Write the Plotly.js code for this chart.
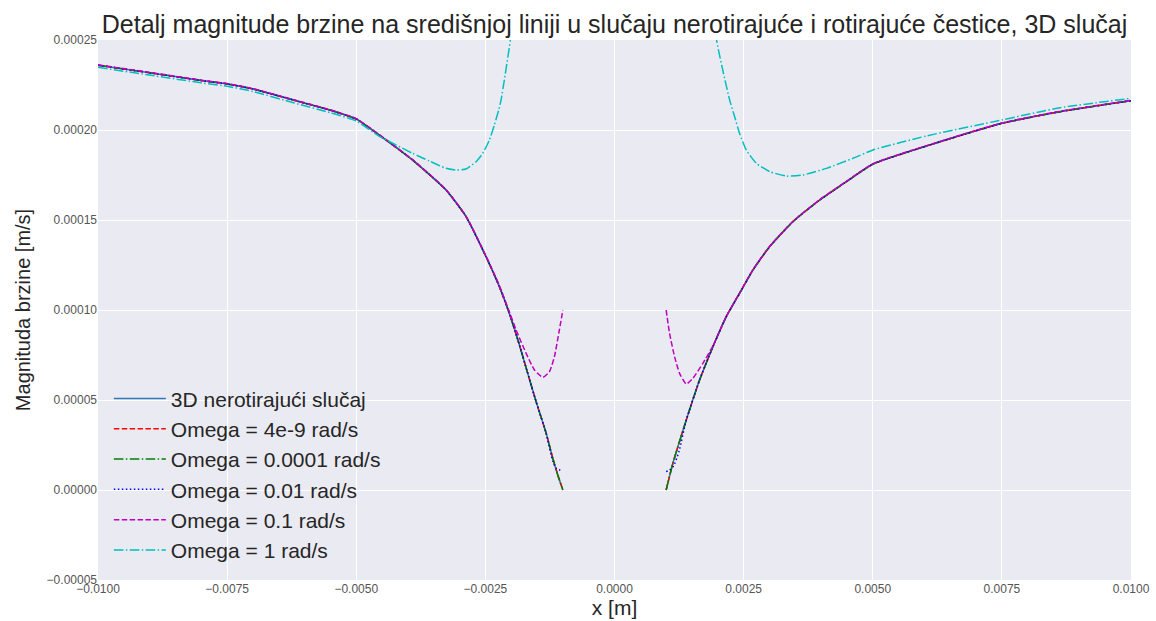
<!DOCTYPE html>
<html>
<head>
<meta charset="utf-8">
<script src="https://cdn.plot.ly/plotly-3.0.1.min.js"></script>
<style>html,body{margin:0;padding:0;background:#fff;}#chart{width:1156px;height:621px;}</style>
</head>
<body>
<div id="chart"></div>
<script>
// ---- data ----
// 3D non-rotating case (also visually identical for Omega = 4e-9 and 0.0001)
const baseLeftX  = [-0.0100, -0.0090, -0.0080, -0.0075, -0.0070, -0.0062, -0.0055, -0.0050, -0.004554, -0.003908, -0.003262, -0.002874, -0.002487, -0.002229, -0.002035, -0.001841, -0.001680, -0.001518, -0.001323, -0.001195, -0.001100, -0.001000];
const baseLeftY  = [0.0002360, 0.0002318, 0.0002275, 0.0002256, 0.0002228, 0.0002165, 0.0002110, 0.0002061, 0.0001972, 0.0001833, 0.0001667, 0.0001519, 0.0001296, 0.0001130, 0.0000981, 0.0000806, 0.0000648, 0.0000491, 0.0000315, 0.0000176, 0.0000085, 0.0000000];
const baseRightX = [0.001000, 0.001130, 0.001390, 0.001647, 0.001905, 0.002164, 0.002422, 0.002680, 0.003004, 0.003455, 0.003973, 0.004490, 0.005006, 0.006040, 0.007500, 0.008630, 0.010000];
const baseRightY = [0.0000000, 0.0000148, 0.0000389, 0.0000611, 0.0000796, 0.0000963, 0.0001093, 0.0001222, 0.0001352, 0.0001491, 0.0001611, 0.0001713, 0.0001811, 0.0001911, 0.0002037, 0.0002102, 0.0002163];

// Omega = 0.01 rad/s (same as base except the ends near the particle)
const om001LeftX  = [-0.0100, -0.0090, -0.0080, -0.0075, -0.0070, -0.0062, -0.0055, -0.0050, -0.004554, -0.003908, -0.003262, -0.002874, -0.002487, -0.002229, -0.002035, -0.001841, -0.001680, -0.001518, -0.001323, -0.001195, -0.001130, -0.001000];
const om001LeftY  = [0.0002360, 0.0002318, 0.0002275, 0.0002256, 0.0002228, 0.0002165, 0.0002110, 0.0002061, 0.0001972, 0.0001833, 0.0001667, 0.0001519, 0.0001296, 0.0001130, 0.0000981, 0.0000806, 0.0000648, 0.0000491, 0.0000315, 0.0000160, 0.0000120, 0.0000106];
const om001RightX = [0.001000, 0.001066, 0.001143, 0.001250, 0.001390, 0.001647, 0.001905, 0.002164, 0.002422, 0.002680, 0.003004, 0.003455, 0.003973, 0.004490, 0.005006, 0.006040, 0.007500, 0.008630, 0.010000];
const om001RightY = [0.0000102, 0.0000111, 0.0000133, 0.0000215, 0.0000389, 0.0000611, 0.0000796, 0.0000963, 0.0001093, 0.0001222, 0.0001352, 0.0001491, 0.0001611, 0.0001713, 0.0001811, 0.0001911, 0.0002037, 0.0002102, 0.0002163];

// Omega = 0.1 rad/s
const om01LeftX  = [-0.0100, -0.0090, -0.0080, -0.0075, -0.0070, -0.0062, -0.0055, -0.0050, -0.004554, -0.003908, -0.003262, -0.002874, -0.002487, -0.002229, -0.002035, -0.001905, -0.001711, -0.001550, -0.001389, -0.001260, -0.001163, -0.001079, -0.001000];
const om01LeftY  = [0.0002362, 0.0002320, 0.0002277, 0.0002258, 0.0002230, 0.0002167, 0.0002112, 0.0002063, 0.0001974, 0.0001835, 0.0001669, 0.0001521, 0.0001300, 0.0001136, 0.0000990, 0.0000889, 0.0000759, 0.0000667, 0.0000626, 0.0000657, 0.0000741, 0.0000870, 0.0001000];
const om01RightX = [0.001000, 0.001066, 0.001163, 0.001260, 0.001390, 0.001517, 0.001711, 0.001905, 0.002164, 0.002422, 0.002680, 0.003004, 0.003455, 0.003973, 0.004490, 0.005006, 0.006040, 0.007500, 0.008630, 0.010000];
const om01RightY = [0.0001000, 0.0000870, 0.0000741, 0.0000648, 0.0000589, 0.0000620, 0.0000704, 0.0000800, 0.0000965, 0.0001095, 0.0001224, 0.0001354, 0.0001493, 0.0001613, 0.0001715, 0.0001813, 0.0001913, 0.0002039, 0.0002104, 0.0002165];

// Omega = 1 rad/s (continues above the visible range near the particle)
const om1LeftX  = [-0.0100, -0.0090, -0.0080, -0.0075, -0.0070, -0.0062, -0.0055, -0.0050, -0.004554, -0.004231, -0.003908, -0.003585, -0.003262, -0.003068, -0.002874, -0.002680, -0.002552, -0.002422, -0.002326, -0.002242, -0.002196, -0.002016, -0.001900];
const om1LeftY  = [0.0002348, 0.0002305, 0.0002262, 0.0002243, 0.0002214, 0.0002150, 0.0002096, 0.0002050, 0.0001965, 0.0001917, 0.0001870, 0.0001828, 0.0001787, 0.0001778, 0.0001783, 0.0001824, 0.0001870, 0.0001944, 0.0002028, 0.0002111, 0.0002167, 0.0002500, 0.0002800];
const om1RightX = [0.001900, 0.001977, 0.002229, 0.002326, 0.002422, 0.002552, 0.002746, 0.003004, 0.003327, 0.003649, 0.004103, 0.004618, 0.005006, 0.006040, 0.007500, 0.008630, 0.010000];
const om1RightY = [0.0002800, 0.0002500, 0.0002167, 0.0002074, 0.0001981, 0.0001889, 0.0001815, 0.0001769, 0.0001744, 0.0001750, 0.0001787, 0.0001843, 0.0001889, 0.0001967, 0.0002056, 0.0002124, 0.0002176];

const seriesNames = ['3D nerotirajući slučaj', 'Omega = 4e-9 rad/s', 'Omega = 0.0001 rad/s', 'Omega = 0.01 rad/s', 'Omega = 0.1 rad/s', 'Omega = 1 rad/s'];
const xTicks = [-0.01, -0.0075, -0.005, -0.0025, 0, 0.0025, 0.005, 0.0075, 0.01];
const yTicks = [-0.00005, 0, 0.00005, 0.0001, 0.00015, 0.0002, 0.00025];

// ---- build traces (left and right branches separated by a gap) ----
function join(a, b) { return a.concat([null], b); }

const styles = [
  {color: '#2f78ba', dash: 'solid'},
  {color: '#ff0000', dash: '5.5px,2.4px'},
  {color: '#008000', dash: '9.6px,2.4px,1.5px,2.4px'},
  {color: '#0000ff', dash: '1.5px,2.5px'},
  {color: '#bf00bf', dash: '5.5px,2.4px'},
  {color: '#00bfbf', dash: '9.6px,2.4px,1.5px,2.4px'}
];
const xs = [
  join(baseLeftX, baseRightX), join(baseLeftX, baseRightX), join(baseLeftX, baseRightX),
  join(om001LeftX, om001RightX), join(om01LeftX, om01RightX), join(om1LeftX, om1RightX)
];
const ys = [
  join(baseLeftY, baseRightY), join(baseLeftY, baseRightY), join(baseLeftY, baseRightY),
  join(om001LeftY, om001RightY), join(om01LeftY, om01RightY), join(om1LeftY, om1RightY)
];

const traces = seriesNames.map((n, i) => ({
  x: xs[i], y: ys[i], name: n, type: 'scatter', mode: 'lines',
  connectgaps: false,
  line: {color: styles[i].color, dash: styles[i].dash, width: 1.5, shape: 'spline', smoothing: 0.5}
}));

const font = 'Arial, "Liberation Sans", Helvetica, sans-serif';
const layout = {
  width: 1156, height: 621,
  margin: {l: 98, r: 25, t: 40, b: 41},
  paper_bgcolor: '#ffffff',
  plot_bgcolor: '#EAEAF2',
  font: {family: font, color: '#262626'},
  showlegend: true,
  title: {
    text: 'Detalj magnitude brzine na središnjoj liniji u slučaju nerotirajuće i rotirajuće čestice, 3D slučaj',
    font: {family: font, size: 25, color: '#262626'},
    x: 0.5, xref: 'paper', xanchor: 'center',
    y: 1 - 24 / 621, yref: 'container', yanchor: 'middle'
  },
  xaxis: {
    range: [-0.01, 0.01], tickvals: xTicks, tickformat: '.4f',
    showgrid: true, gridcolor: '#ffffff', gridwidth: 1, zeroline: false,
    showline: false, ticks: '', tickfont: {size: 12, color: '#555555', family: font},
    title: {text: 'x [m]', font: {size: 21, color: '#262626', family: font}, standoff: 2}
  },
  yaxis: {
    range: [-0.00005, 0.00025], tickvals: yTicks, tickformat: '.5f',
    showgrid: true, gridcolor: '#ffffff', gridwidth: 1, zeroline: false,
    showline: false, ticks: '', tickfont: {size: 12, color: '#555555', family: font},
    title: {text: 'Magnituda brzine [m/s]', font: {size: 20, color: '#262626', family: font}, standoff: 10}
  },
  legend: {
    x: 0.0105, y: 0.018, xanchor: 'left', yanchor: 'bottom',
    bgcolor: 'rgba(0,0,0,0)', borderwidth: 0,
    font: {size: 21, color: '#262626', family: font},
    itemwidth: 52, tracegroupgap: 0
  }
};

Plotly.newPlot('chart', traces, layout, {displayModeBar: false, staticPlot: true});
</script>
</body>
</html>
